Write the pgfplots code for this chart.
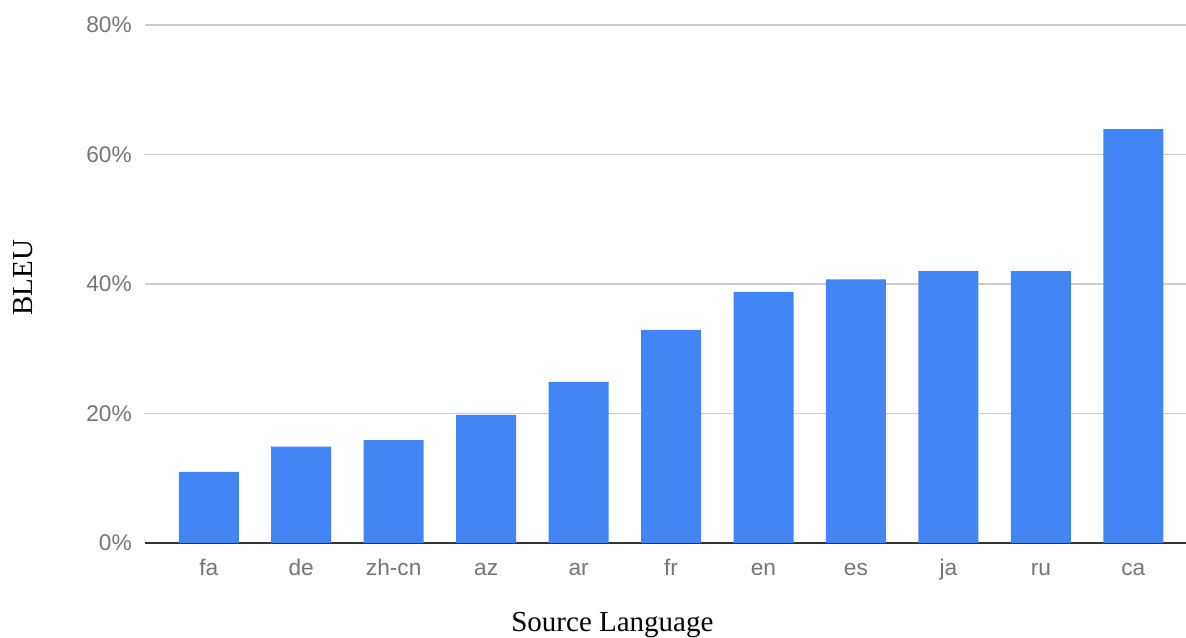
\documentclass[border=0pt]{standalone}
\usepackage{pgfplots}
\pgfplotsset{compat=1.18}
\usepackage{fontspec}
\setmainfont{Liberation Serif}
\newfontfamily\ticksfont{Liberation Sans}
\definecolor{barblue}{HTML}{4285F4}
\definecolor{tickgray}{HTML}{757575}
\definecolor{gridgray}{HTML}{CCCCCC}
\definecolor{axisdark}{HTML}{333333}
\begin{document}
\begin{tikzpicture}
\begin{axis}[
  name=ax,
  scale only axis,
  width=780.75pt, height=388.5pt,
  ybar, bar width=45pt,
  xmin=-0.69, xmax=10.57,
  ymin=0, ymax=80,
  xtick={0,...,10},
  xticklabels={fa,de,zh-cn,az,ar,fr,en,es,ja,ru,ca},
  ytick={0,20,40,60,80},
  yticklabel={\pgfmathprintnumber[assume math mode=true]{\tick}\%},
  major tick length=0pt,
  axis x line*=bottom, axis y line*=left,
  y axis line style={draw=none},
  x axis line style={draw=axisdark, line width=1.5pt, -},
  ymajorgrids, grid style={draw=gridgray, line width=1.1pt},
  tick label style={font=\ticksfont\fontsize{17}{20}\selectfont, text=tickgray},
  yticklabel style={anchor=east, inner sep=0pt, xshift=-9.75pt},
  xticklabel style={anchor=base, inner sep=0pt, yshift=-24.75pt},
  xlabel={Source Language},
  ylabel={BLEU},
  label style={font=\fontsize{21.75}{26}\selectfont, text=black},
  xlabel style={at={(axis description cs:0.449,0)}, anchor=base, inner sep=0pt, yshift=-66.75pt},
  ylabel style={at={(axis description cs:-0.1172,0.512)}, anchor=center, inner sep=0pt},
]
\addplot[fill=barblue, draw=none] coordinates {
  (0,11.0) (1,14.9) (2,15.9) (3,19.8) (4,24.9) (5,32.9)
  (6,38.8) (7,40.7) (8,42.0) (9,42.0) (10,63.9)
};
\end{axis}
\pgfresetboundingbox
\path ([xshift=-108.75pt,yshift=-71.25pt]ax.south west) rectangle ([yshift=18.75pt]ax.north east);
\end{tikzpicture}
\end{document}
